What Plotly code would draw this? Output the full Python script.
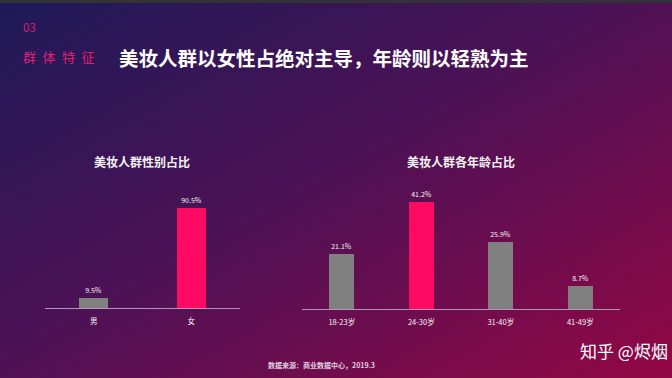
import base64
import plotly.graph_objects as go

gender_cats = ["男", "女"]
gender_vals = [9.5, 90.5]
gender_labels = ["9.5%", "90.5%"]

age_cats = ["18-23岁", "24-30岁", "31-40岁", "41-49岁"]
age_vals = [21.1, 41.2, 25.9, 8.7]
age_labels = ["21.1%", "41.2%", "25.9%", "8.7%"]

GRAY = "#808080"
PINK = "#fe0a62"
FONT = "Noto Sans CJK SC"
W, H = 672, 378

svg = f'''<svg xmlns="http://www.w3.org/2000/svg" width="{W}" height="{H}">
<defs>
<linearGradient id="g" x1="0" y1="0" x2="1" y2="1">
<stop offset="0" stop-color="#1e1a58"/>
<stop offset="0.45" stop-color="#4a1256"/>
<stop offset="1" stop-color="#930745"/>
</linearGradient>
</defs>
<rect width="{W}" height="{H}" fill="url(#g)"/>
</svg>'''
bg_uri = "data:image/svg+xml;base64," + base64.b64encode(svg.encode()).decode()

fig = go.Figure()

fig.add_trace(go.Bar(
    x=gender_cats, y=gender_vals, text=gender_labels,
    marker=dict(color=[GRAY, PINK], line=dict(width=0)),
    width=0.3, textposition="outside", cliponaxis=False,
    textfont=dict(size=7, color="#f4f4f4", family=FONT),
    xaxis="x", yaxis="y", hoverinfo="skip",
))
fig.add_trace(go.Bar(
    x=age_cats, y=age_vals, text=age_labels,
    marker=dict(color=[GRAY, PINK, GRAY, GRAY], line=dict(width=0)),
    width=0.32, textposition="outside", cliponaxis=False,
    textfont=dict(size=7, color="#f4f4f4", family=FONT),
    xaxis="x2", yaxis="y2", hoverinfo="skip",
))

def px(xp):
    return xp / W

def py(yp):
    return (H - yp) / H

axis_common = dict(
    showgrid=False, zeroline=False, showline=True,
    linecolor="#b393b8", linewidth=1,
    ticks="outside", ticklen=6, tickcolor="rgba(0,0,0,0)",
    tickfont=dict(size=7.5, color="#f4f4f4", family=FONT),
    fixedrange=True,
)

fig.update_layout(
    width=W, height=H,
    margin=dict(l=0, r=0, t=0, b=0),
    paper_bgcolor="#4a1256", plot_bgcolor="rgba(0,0,0,0)",
    showlegend=False,
    bargap=0,
    images=[dict(source=bg_uri, xref="paper", yref="paper", x=0, y=1,
                 sizex=1, sizey=1, sizing="stretch", layer="below",
                 xanchor="left", yanchor="top")],
    xaxis=dict(domain=[px(45), px(240)], range=[-0.5, 1.5], anchor="y", **axis_common),
    yaxis=dict(domain=[py(308), py(170)], range=[0, 124.9], visible=False, fixedrange=True),
    xaxis2=dict(domain=[px(302), px(620)], range=[-0.5, 3.5], anchor="y2", **axis_common),
    yaxis2=dict(domain=[py(309), py(170)], range=[0, 53.5], visible=False, fixedrange=True),
)

# top dark band
fig.add_shape(type="rect", xref="paper", yref="paper", x0=0, x1=1,
              y0=py(3), y1=1, fillcolor="#333238", line=dict(width=0), layer="above")

def txt(x, y, s, size, color, bold=False, anchor="left"):
    fig.add_annotation(
        x=px(x), y=py(y), xref="paper", yref="paper",
        text=f"<b>{s}</b>" if bold else s, showarrow=False,
        xanchor=anchor, yanchor="middle",
        font=dict(size=size, color=color, family=FONT),
    )

sp = "\u2002"
txt(21, 27, "03", 11.5, "#d8206c")
txt(21, 56, sp.join("群体特征"), 13, "#e0206e")
txt(117, 57, "美妆人群以女性占绝对主导，年龄则以轻熟为主", 19.5, "#ffffff", bold=True)
txt(142, 161, "美妆人群性别占比", 12, "#f2f2f2", bold=True, anchor="center")
txt(461, 161, "美妆人群各年龄占比", 12, "#f2f2f2", bold=True, anchor="center")
txt(321, 365, "<b>数据来源：商业数据中心，2019.3</b>", 7, "#e0d0e0", anchor="center")
txt(578, 350, "知乎 @烬烟", 17, "#ffffff")

fig.write_html("out.html")
